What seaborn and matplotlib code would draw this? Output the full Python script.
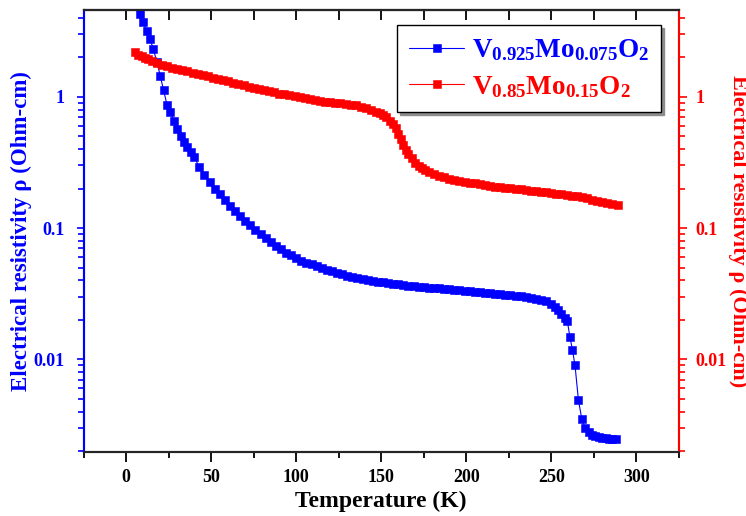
import matplotlib
matplotlib.use("Agg")
import matplotlib.pyplot as plt
import numpy as np
import pandas as pd
import seaborn as sns
from matplotlib.ticker import MultipleLocator, FixedLocator, FuncFormatter, LogLocator, NullFormatter

# V0.925Mo0.075O2 (blue, left axis)
temp_a = [8, 10, 12, 14, 16, 18, 20, 22, 24, 26, 28, 30, 32, 34, 36, 38, 40, 43, 46, 49,
          52, 55, 58, 61, 64, 67, 70, 73, 76, 79, 82, 85, 88, 91, 94, 97, 100, 103, 106, 109,
          112, 115, 118, 121, 124, 127, 130, 133, 136, 139, 142, 145, 148, 151, 154, 157, 160,
          163, 166, 169, 172, 175, 178, 181, 184, 187, 190, 193, 196, 199, 202, 205, 208, 211,
          214, 217, 220, 223, 226, 229, 232, 235, 238, 241, 244, 247, 250, 252, 254, 256, 258,
          259.5, 261, 262.5, 264, 266, 268, 270, 272, 274, 276, 278, 280, 282, 284, 286, 288]
rho_a = [4.3, 3.7, 3.2, 2.75, 2.3, 1.85, 1.45, 1.12, 0.87, 0.76, 0.66, 0.57, 0.50, 0.455,
         0.415, 0.38, 0.35, 0.29, 0.255, 0.225, 0.20, 0.183, 0.165, 0.148, 0.135, 0.124, 0.113,
         0.105, 0.097, 0.090, 0.084, 0.078, 0.073, 0.069, 0.065, 0.062, 0.059, 0.056, 0.0545,
         0.053, 0.0515, 0.050, 0.048, 0.047, 0.0455, 0.0445, 0.0435, 0.0425, 0.042, 0.041,
         0.0403, 0.0397, 0.039, 0.0385, 0.038, 0.0376, 0.0372, 0.0368, 0.0365, 0.0362, 0.0358,
         0.0355, 0.0352, 0.035, 0.0347, 0.0345, 0.0342, 0.034, 0.0337, 0.0334, 0.0331, 0.0328,
         0.0325, 0.0322, 0.032, 0.0317, 0.0314, 0.0311, 0.0308, 0.0305, 0.0302, 0.0299, 0.0295,
         0.029, 0.0285, 0.0277, 0.0265, 0.0252, 0.0236, 0.0222, 0.0208, 0.0195, 0.0148, 0.0118,
         0.0090, 0.0049, 0.0035, 0.0030, 0.0028, 0.00265, 0.0026, 0.00255, 0.00252, 0.0025,
         0.00249, 0.00248, 0.00247]

# V0.85Mo0.15O2 (red, right axis)
temp_b = [5, 7, 9, 11, 13, 15, 18, 21, 24, 27, 30, 33, 36, 39, 42, 45, 48, 51, 54, 57, 60,
          63, 66, 69, 72, 75, 78, 81, 84, 87, 90, 93, 96, 99, 102, 105, 108, 111, 114, 117, 120,
          123, 126, 129, 132, 135, 138, 141, 144, 147, 149, 151, 153, 155, 157, 158.5, 160,
          161.5, 163, 164.5, 166, 168, 170, 172, 174, 176, 178, 181, 184, 187, 190, 193, 196,
          199, 202, 205, 208, 211, 214, 217, 220, 223, 226, 229, 232, 235, 238, 241, 244, 247,
          250, 253, 256, 259, 262, 265, 268, 271, 274, 277, 280, 283, 286, 289]
rho_b = [2.2, 2.1, 2.04, 1.98, 1.93, 1.89, 1.82, 1.76, 1.71, 1.67, 1.63, 1.60, 1.56, 1.52,
         1.49, 1.46, 1.43, 1.40, 1.37, 1.34, 1.31, 1.28, 1.25, 1.22, 1.19, 1.16, 1.14, 1.12,
         1.10, 1.08, 1.06, 1.05, 1.03, 1.01, 1.0, 0.98, 0.96, 0.95, 0.935, 0.92, 0.91, 0.90,
         0.89, 0.88, 0.87, 0.86, 0.84, 0.82, 0.80, 0.77, 0.75, 0.73, 0.70, 0.66, 0.62, 0.575,
         0.52, 0.475, 0.43, 0.395, 0.365, 0.34, 0.315, 0.298, 0.285, 0.275, 0.267, 0.258, 0.25,
         0.243, 0.238, 0.233, 0.229, 0.225, 0.222, 0.219, 0.215, 0.213, 0.21, 0.207, 0.205,
         0.203, 0.201, 0.199, 0.197, 0.195, 0.193, 0.191, 0.189, 0.187, 0.185, 0.183, 0.181,
         0.179, 0.176, 0.174, 0.171, 0.168, 0.165, 0.162, 0.159, 0.156, 0.153, 0.150]

label_a = r'$\mathbf{V_{0.925}Mo_{0.075}O_2}$'
label_b = r'$\mathbf{V_{0.85}Mo_{0.15}O_2}$'
xticks = [0, 50, 100, 150, 200, 250, 300]
yticks = [0.01, 0.1, 1]
ylabel = 'Electrical resistivity ρ (Ohm-cm)'

sns.set_style('ticks')
plt.rcParams['font.family'] = ['Liberation Serif', 'DejaVu Serif']
plt.rcParams['font.weight'] = 'bold'
plt.rcParams['text.color'] = 'black'
plt.rcParams['axes.labelcolor'] = 'black'
plt.rcParams['mathtext.fontset'] = 'custom'
plt.rcParams['mathtext.rm'] = 'Liberation Serif:bold'
plt.rcParams['mathtext.bf'] = 'Liberation Serif:bold'
plt.rcParams['mathtext.it'] = 'Liberation Serif:bold'

df_a = pd.DataFrame({'T': temp_a, 'rho': rho_a})
df_b = pd.DataFrame({'T': temp_b, 'rho': rho_b})

fig, ax = plt.subplots(figsize=(7.46, 5.16), dpi=100, facecolor='white')
fig.subplots_adjust(left=0.1122, right=0.9098, top=0.9797, bottom=0.1231)
ax2 = ax.twinx()

sns.lineplot(data=df_a, x='T', y='rho', ax=ax, color='blue', marker='s', markersize=6.2,
             markeredgecolor='blue', markeredgewidth=0.4, linewidth=0.8, label=label_a)
sns.lineplot(data=df_b, x='T', y='rho', ax=ax2, color='red', marker='s', markersize=6.2,
             markeredgecolor='red', markeredgewidth=0.4, linewidth=0.8, label=label_b)

for a in (ax, ax2):
    a.set_yscale('log')
    a.set_ylim(0.00195, 4.55)
    a.yaxis.set_major_locator(FixedLocator(yticks))
    a.yaxis.set_major_formatter(FuncFormatter(lambda v, p: '%g' % v))
    a.yaxis.set_minor_locator(LogLocator(base=10, subs=np.arange(2, 10)))
    a.yaxis.set_minor_formatter(NullFormatter())
ax.set_xlim(-25, 325)
ax.xaxis.set_major_locator(FixedLocator(xticks))
ax.xaxis.set_minor_locator(MultipleLocator(25))

# spines
for s in list(ax.spines.values()) + list(ax2.spines.values()):
    s.set_linewidth(1.5)
ax.spines['left'].set_color('blue')
ax2.spines['left'].set_color('blue')
ax.spines['right'].set_color('red')
ax2.spines['right'].set_color('red')
ax.spines['top'].set_color('black')
ax.spines['bottom'].set_color('black')

ax.tick_params(axis='x', which='major', direction='out', length=7, width=1.3, labelsize=13,
               colors='black', pad=5)
ax.tick_params(axis='x', which='minor', direction='out', length=4, width=1.3, colors='black')
ax.tick_params(axis='y', which='major', direction='out', length=5, width=1.2, labelsize=13,
               colors='blue', pad=9)
ax.tick_params(axis='y', which='minor', direction='out', length=4, width=1.2, colors='blue')
ax2.tick_params(axis='y', which='major', direction='out', length=6, width=1.2, labelsize=13,
                colors='red', pad=6)
ax2.tick_params(axis='y', which='minor', direction='out', length=4, width=1.2, colors='red')

top = ax.secondary_xaxis('top')
top.xaxis.set_major_locator(MultipleLocator(25))
top.tick_params(direction='in', length=7, width=1.3, labeltop=False, colors='black')
top.spines['top'].set_linewidth(1.5)
top.spines['top'].set_color('black')

for lab in ax.get_xticklabels() + ax.get_yticklabels() + ax2.get_yticklabels():
    lab.set_fontweight('bold')

ax.set_xlabel('Temperature (K)', fontsize=17, fontweight='bold', color='black', labelpad=3)
ax.set_ylabel(ylabel, fontsize=16.5, fontweight='bold', color='blue')
ax.yaxis.set_label_coords(-0.087, 0.5)
ax2.set_ylabel(ylabel, fontsize=16, fontweight='bold', color='red', rotation=270)
ax2.yaxis.label.set_va('bottom')
ax2.yaxis.set_label_coords(1.082, 0.5)

h1, l1 = ax.get_legend_handles_labels()
h2, l2 = ax2.get_legend_handles_labels()
if ax.get_legend():
    ax.get_legend().remove()
if ax2.get_legend():
    ax2.get_legend().remove()
leg = ax2.legend(h1 + h2, l1 + l2, loc='upper right', bbox_to_anchor=(0.971, 0.967),
                 borderaxespad=0, fontsize=19.5, labelcolor='linecolor', fancybox=False,
                 edgecolor='black', framealpha=1, handlelength=2.0, handletextpad=0.3,
                 labelspacing=0.4, borderpad=0.45,
                 shadow={'color': '0.55', 'alpha': 1})
leg.get_frame().set_linewidth(1.0)

plt.savefig('out.png', dpi=100, facecolor='white')
